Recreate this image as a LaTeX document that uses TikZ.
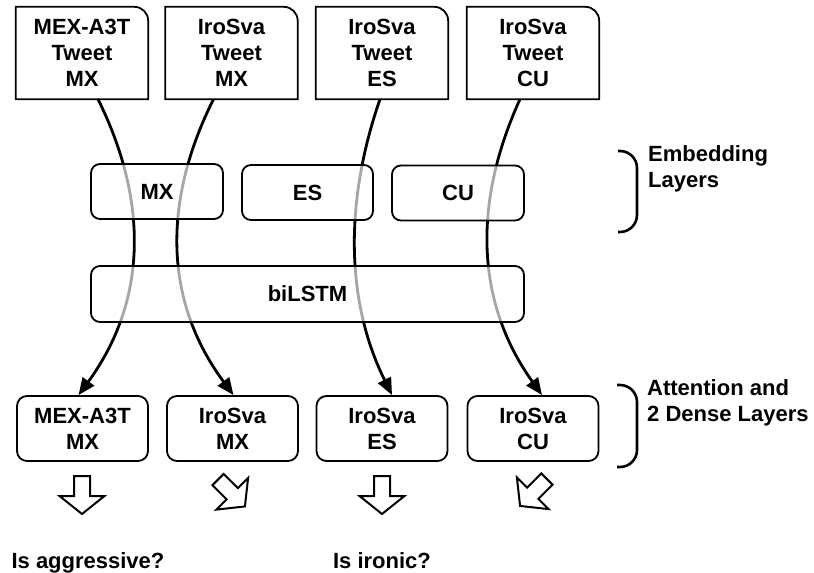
\documentclass[tikz,border=0pt]{standalone}
\usepackage{fontspec}
\setmainfont{Liberation Sans}
\usetikzlibrary{positioning,arrows.meta}

\begin{document}
\begin{tikzpicture}[
    x=1pt,
    y=-1pt,
    font=\fontsize{22}{26}\selectfont\bfseries,
    >={Triangle[length=17pt,width=14pt]},
    tweet/.style={
        align=center,
        inner sep=0pt,
        minimum width=132pt,
        minimum height=92pt
    },
    layer/.style={
        draw,
        rounded corners=9pt,
        line width=1.8pt,
        fill=white,
        fill opacity=0.65,
        text opacity=1,
        inner sep=0pt,
        minimum height=55pt
    },
    task/.style={
        draw,
        rounded corners=10pt,
        line width=1.8pt,
        align=center,
        inner sep=0pt,
        minimum width=131pt,
        minimum height=65pt
    },
    flow/.style={
        ->,
        line width=2.8pt
    },
    outline/.style={line width=1.8pt},
    hollow/.style={line width=2pt, line join=miter, fill=white},
    brace/.style={line width=2.6pt, rounded corners=17pt},
    note/.style={align=left, anchor=base west, inner sep=0pt}
]
\useasboundingbox (0,0) rectangle (814,573);

% input tweets
\node[tweet] (tweetA) at (82,53) {MEX-A3T\\Tweet\\MX};
\node[tweet] (tweetB) at (231.5,53) {IroSva\\Tweet\\MX};
\node[tweet] (tweetC) at (382,53) {IroSva\\Tweet\\ES};
\node[tweet] (tweetD) at (533,53) {IroSva\\Tweet\\CU};
\foreach \n in {tweetA,tweetB,tweetC,tweetD}
    \draw[outline] (\n.south west) -- (\n.north west) [rounded corners=14pt] -- (\n.north east) [sharp corners] -- (\n.south east) -- cycle;

% task heads
\node[task] (outA) at (82.5,428.5) {MEX-A3T\\MX};
\node[task] (outB) at (232.5,428.5) {IroSva\\MX};
\node[task] (outC) at (382,428.5) {IroSva\\ES};
\node[task] (outD) at (533,428.5) {IroSva\\CU};

\draw[flow] ([xshift=16pt]tweetA.south) .. controls (148,200) and (148,300) .. ([xshift=-4pt]outA.north);
\draw[flow] ([xshift=-18pt]tweetB.south) .. controls (163,200) and (163,300) .. ([xshift=1pt]outB.north);
\draw[flow] ([xshift=-2pt]tweetC.south) .. controls (345,200) and (345,300) .. ([xshift=10pt]outC.north);
\draw[flow] ([xshift=-13pt]tweetD.south) .. controls (474,200) and (474,300) .. ([xshift=9pt]outD.north);

% shared layers
\node[layer, minimum width=132pt] (embMX) at (157,191.5) {MX};
\node[layer, minimum width=131pt] (embES) at (307.5,192.5) {ES};
\node[layer, minimum width=132pt] (embCU) at (458,193) {CU};
\node[layer, minimum width=433pt, minimum height=56pt] (lstm) at (307.5,294) {biLSTM};

% outputs
\foreach \px/\py/\ang in {82/495/0, 231.5/493/45, 382/495/0, 533.5/492.5/-45}
    \draw[hollow, shift={(\px,\py)}, rotate=\ang] (-8,-19) -- (8,-19) -- (8,1) -- (22.5,1) -- (0,19) -- (-22.5,1) -- (-8,1) -- cycle;

\node[anchor=base, inner sep=0pt] (aggr) at (88,568) {Is aggressive?};
\node[anchor=base, inner sep=0pt] (iron) at (382,568) {Is ironic?};

% braces
\draw[brace] (618,151) -- (637,151) -- (637,232) -- (618,232);
\node[note] (embnote) at (648,187) {Embedding\\Layers};
\draw[brace] (617,385) -- (637,385) -- (637,467) -- (617,467);
\node[note] (attnote) at (647,421) {Attention and\\2 Dense Layers};

\end{tikzpicture}
\end{document}
